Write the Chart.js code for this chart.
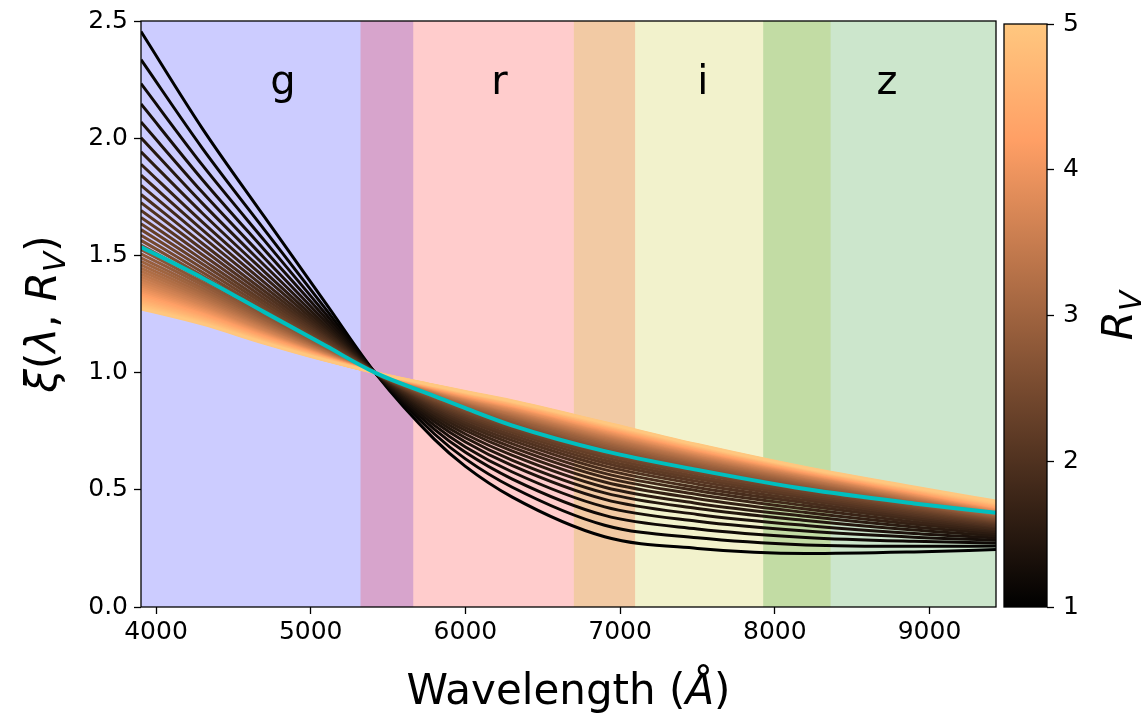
<!DOCTYPE html>
<html>
<head>
<meta charset="utf-8">
<script src="https://cdn.jsdelivr.net/npm/chart.js@4.4.1/dist/chart.umd.min.js"></script>
<style>
  html, body { margin: 0; padding: 0; background: #fff; }
  #wrap { position: relative; width: 1144px; height: 717px; overflow: hidden; }
  #main { position: absolute; left: 0; top: 0; }
  #cbar { position: absolute; left: 996px; top: 0; }
</style>
</head>
<body>
<div id="wrap">
  <canvas id="main" width="1144" height="717"></canvas>
  <canvas id="cbar" width="148" height="717"></canvas>
</div>
<script>
// wavelength grid (Angstrom) shared by every curve
const WAVELENGTHS = [3903, 4300, 4700, 5100, 5415, 5800, 6000, 6300, 6900, 7500, 8200, 8900, 9430];

// R_V of each curve, 1 -> 5
const RV_VALUES = [1.000, 1.091, 1.182, 1.273, 1.364, 1.455, 1.545, 1.636, 1.727, 1.818,
                   1.909, 2.000, 2.091, 2.182, 2.273, 2.364, 2.455, 2.545, 2.636, 2.727,
                   2.818, 2.909, 3.000, 3.091, 3.182, 3.273, 3.364, 3.455, 3.545, 3.636,
                   3.727, 3.818, 3.909, 4.000, 4.091, 4.182, 4.273, 4.364, 4.455, 4.545,
                   4.636, 4.727, 4.818, 4.909, 5.000];

// xi(lambda, R_V), one row per R_V, one column per wavelength
const XI_CURVES = [
  [2.455, 2.041, 1.665, 1.293, 1, 0.715, 0.600, 0.470, 0.300, 0.250, 0.228, 0.235, 0.245],
  [2.335, 1.957, 1.610, 1.269, 1, 0.738, 0.632, 0.512, 0.349, 0.295, 0.265, 0.259, 0.260],
  [2.233, 1.885, 1.564, 1.248, 1, 0.758, 0.660, 0.547, 0.391, 0.333, 0.297, 0.280, 0.273],
  [2.146, 1.823, 1.524, 1.230, 1, 0.775, 0.683, 0.577, 0.427, 0.366, 0.324, 0.298, 0.285],
  [2.069, 1.769, 1.489, 1.214, 1, 0.790, 0.704, 0.604, 0.459, 0.395, 0.348, 0.314, 0.295],
  [2.002, 1.722, 1.458, 1.200, 1, 0.803, 0.722, 0.627, 0.487, 0.420, 0.369, 0.328, 0.304],
  [1.942, 1.680, 1.431, 1.188, 1, 0.815, 0.738, 0.648, 0.511, 0.442, 0.387, 0.341, 0.313],
  [1.889, 1.642, 1.407, 1.177, 1, 0.825, 0.753, 0.666, 0.533, 0.462, 0.403, 0.353, 0.321],
  [1.842, 1.609, 1.385, 1.168, 1, 0.835, 0.765, 0.682, 0.553, 0.480, 0.418, 0.363, 0.328],
  [1.799, 1.579, 1.366, 1.159, 1, 0.843, 0.777, 0.697, 0.570, 0.496, 0.432, 0.373, 0.334],
  [1.760, 1.551, 1.348, 1.151, 1, 0.851, 0.787, 0.711, 0.586, 0.510, 0.444, 0.382, 0.341],
  [1.725, 1.526, 1.332, 1.144, 1, 0.858, 0.797, 0.723, 0.601, 0.524, 0.455, 0.390, 0.346],
  [1.692, 1.503, 1.317, 1.137, 1, 0.864, 0.806, 0.734, 0.614, 0.536, 0.465, 0.397, 0.352],
  [1.662, 1.482, 1.303, 1.131, 1, 0.870, 0.814, 0.745, 0.626, 0.547, 0.474, 0.404, 0.357],
  [1.635, 1.463, 1.291, 1.125, 1, 0.875, 0.821, 0.754, 0.638, 0.557, 0.482, 0.411, 0.361],
  [1.610, 1.445, 1.279, 1.120, 1, 0.880, 0.828, 0.763, 0.648, 0.567, 0.490, 0.417, 0.366],
  [1.586, 1.428, 1.268, 1.115, 1, 0.885, 0.834, 0.771, 0.658, 0.575, 0.498, 0.422, 0.370],
  [1.564, 1.413, 1.258, 1.111, 1, 0.889, 0.840, 0.779, 0.667, 0.584, 0.504, 0.428, 0.374],
  [1.544, 1.399, 1.249, 1.107, 1, 0.893, 0.846, 0.786, 0.675, 0.591, 0.511, 0.433, 0.378],
  [1.525, 1.385, 1.240, 1.103, 1, 0.897, 0.851, 0.792, 0.683, 0.598, 0.517, 0.437, 0.382],
  [1.507, 1.373, 1.232, 1.099, 1, 0.900, 0.856, 0.799, 0.690, 0.605, 0.522, 0.442, 0.385],
  [1.490, 1.361, 1.225, 1.096, 1, 0.903, 0.860, 0.804, 0.697, 0.611, 0.527, 0.446, 0.389],
  [1.475, 1.350, 1.217, 1.092, 1, 0.906, 0.864, 0.810, 0.704, 0.617, 0.532, 0.450, 0.392],
  [1.460, 1.339, 1.211, 1.089, 1, 0.909, 0.868, 0.815, 0.710, 0.623, 0.537, 0.454, 0.395],
  [1.446, 1.329, 1.204, 1.087, 1, 0.912, 0.872, 0.820, 0.716, 0.628, 0.541, 0.458, 0.398],
  [1.433, 1.320, 1.198, 1.084, 1, 0.915, 0.876, 0.824, 0.721, 0.633, 0.545, 0.461, 0.401],
  [1.420, 1.311, 1.193, 1.081, 1, 0.917, 0.879, 0.829, 0.726, 0.638, 0.549, 0.465, 0.404],
  [1.408, 1.303, 1.187, 1.079, 1, 0.919, 0.882, 0.833, 0.731, 0.642, 0.553, 0.468, 0.406],
  [1.397, 1.295, 1.182, 1.077, 1, 0.922, 0.885, 0.837, 0.736, 0.646, 0.556, 0.471, 0.409],
  [1.386, 1.288, 1.177, 1.074, 1, 0.924, 0.888, 0.840, 0.740, 0.650, 0.560, 0.474, 0.412],
  [1.376, 1.280, 1.172, 1.072, 1, 0.926, 0.891, 0.844, 0.744, 0.654, 0.563, 0.477, 0.414],
  [1.366, 1.274, 1.168, 1.070, 1, 0.928, 0.894, 0.847, 0.748, 0.658, 0.566, 0.480, 0.417],
  [1.357, 1.267, 1.164, 1.068, 1, 0.929, 0.896, 0.851, 0.752, 0.661, 0.569, 0.482, 0.419],
  [1.348, 1.261, 1.160, 1.067, 1, 0.931, 0.898, 0.854, 0.756, 0.665, 0.571, 0.485, 0.422],
  [1.340, 1.255, 1.156, 1.065, 1, 0.933, 0.901, 0.857, 0.759, 0.668, 0.574, 0.488, 0.424],
  [1.332, 1.249, 1.152, 1.063, 1, 0.934, 0.903, 0.859, 0.763, 0.671, 0.577, 0.490, 0.426],
  [1.324, 1.244, 1.149, 1.062, 1, 0.936, 0.905, 0.862, 0.766, 0.674, 0.579, 0.493, 0.429],
  [1.317, 1.238, 1.145, 1.060, 1, 0.937, 0.907, 0.865, 0.769, 0.676, 0.581, 0.495, 0.431],
  [1.309, 1.233, 1.142, 1.059, 1, 0.939, 0.909, 0.867, 0.772, 0.679, 0.583, 0.497, 0.434],
  [1.303, 1.229, 1.139, 1.057, 1, 0.940, 0.911, 0.869, 0.774, 0.682, 0.586, 0.500, 0.436],
  [1.296, 1.224, 1.136, 1.056, 1, 0.941, 0.913, 0.872, 0.777, 0.684, 0.588, 0.502, 0.439],
  [1.290, 1.219, 1.133, 1.055, 1, 0.943, 0.914, 0.874, 0.780, 0.686, 0.590, 0.504, 0.441],
  [1.284, 1.215, 1.130, 1.053, 1, 0.944, 0.916, 0.876, 0.782, 0.689, 0.591, 0.507, 0.444],
  [1.278, 1.211, 1.128, 1.052, 1, 0.945, 0.917, 0.878, 0.785, 0.691, 0.593, 0.509, 0.447],
  [1.272, 1.207, 1.125, 1.051, 1, 0.946, 0.919, 0.880, 0.787, 0.693, 0.595, 0.512, 0.452]
];

// reference curve drawn in cyan on top of the family
const XI_CYAN = [1.536, 1.404, 1.258, 1.113, 1, 0.900, 0.848, 0.775, 0.665, 0.585, 0.503, 0.442, 0.402];

// photometric bands (Angstrom)
const BAND_NAMES = ['g', 'r', 'i', 'z'];
const BAND_START = [3903, 5322, 6701, 7925];
const BAND_END = [5663, 7097, 8361, 9430];
const BAND_LABEL_X = [4820, 6220, 7535, 8725];
const BAND_LABEL_Y = 2.19;

const X_MIN = 3903, X_MAX = 9430;
const X_TICKS = [4000, 5000, 6000, 7000, 8000, 9000];
const Y_TICKS = [0, 0.5, 1.0, 1.5, 2.0, 2.5];
const RV_TICKS = [1, 2, 3, 4, 5];

const BAND_COLORS = ['rgba(0,0,255,0.2)', 'rgba(255,0,0,0.2)', 'rgba(191,191,0,0.2)', 'rgba(0,128,0,0.2)'];
const FONT = 'DejaVu Sans';
const TICK_SIZE = 25;
const LABEL_SIZE = 42;

Chart.defaults.font.family = FONT;
Chart.defaults.color = '#000';

// matplotlib "copper" colormap
function copper(t) {
    const r = Math.min(1, 1.25 * t) * 255;
    const g = 0.7812 * t * 255;
    const b = 0.4975 * t * 255;
    return `rgb(${r.toFixed(0)}, ${g.toFixed(0)}, ${b.toFixed(0)})`;
}

function rvColour(rv) {
    return copper((rv - RV_TICKS[0]) / (RV_TICKS[RV_TICKS.length - 1] - RV_TICKS[0]));
}

// text with italic / subscript pieces, centred on (cx, baseline cy)
function drawRich(ctx, parts, cx, cy, size, angle) {
    ctx.save();
    ctx.translate(cx, cy);
    ctx.rotate(angle);
    const fontOf = p => `${p.it ? 'italic ' : ''}${p.sub ? size * 0.7 : size}px "${FONT}"`;
    let total = 0;
    const widths = parts.map(p => {
        ctx.font = fontOf(p);
        const w = ctx.measureText(p.t).width;
        total += w;
        return w;
    });
    let x = -total / 2;
    ctx.fillStyle = '#000';
    ctx.textAlign = 'left';
    ctx.textBaseline = 'alphabetic';
    parts.forEach((p, i) => {
        ctx.font = fontOf(p);
        ctx.fillText(p.t, x, p.sub ? size * 0.22 : 0);
        x += widths[i];
    });
    ctx.restore();
}

const decorPlugin = {
    id: 'decor',
    beforeDatasetsDraw(chart) {
        const { ctx, chartArea: a, scales: { x } } = chart;
        ctx.save();
        ctx.beginPath();
        ctx.rect(a.left, a.top, a.width, a.height);
        ctx.clip();
        for (let i = 0; i < BAND_NAMES.length; i++) {
            const x0 = x.getPixelForValue(BAND_START[i]);
            const x1 = x.getPixelForValue(BAND_END[i]);
            ctx.fillStyle = BAND_COLORS[i];
            ctx.fillRect(x0, a.top, x1 - x0, a.height);
        }
        ctx.restore();
    },
    afterDatasetsDraw(chart) {
        const { ctx, scales: { x, y } } = chart;
        ctx.save();
        ctx.font = `40px "${FONT}"`;
        ctx.fillStyle = '#000';
        ctx.textAlign = 'center';
        ctx.textBaseline = 'alphabetic';
        BAND_NAMES.forEach((name, i) => {
            ctx.fillText(name, x.getPixelForValue(BAND_LABEL_X[i]), y.getPixelForValue(BAND_LABEL_Y));
        });
        ctx.restore();
    },
    afterDraw(chart) {
        const { ctx, chartArea: a } = chart;
        // frame
        ctx.save();
        ctx.strokeStyle = '#000';
        ctx.lineWidth = 1.3;
        ctx.strokeRect(a.left, a.top, a.width, a.height);
        ctx.restore();

        drawRich(ctx, [{ t: 'Wavelength (' }, { t: 'Å', it: true }, { t: ')' }],
            (a.left + a.right) / 2, 704, LABEL_SIZE, 0);
        drawRich(ctx, [{ t: 'ξ', it: true }, { t: '(' }, { t: 'λ', it: true }, { t: ', ' },
            { t: 'R', it: true }, { t: 'V', it: true, sub: true }, { t: ')' }],
            56, (a.top + a.bottom) / 2, LABEL_SIZE, -Math.PI / 2);
    }
};

let datasets = [];

datasets.push({
    label: 'cyan',
    data: WAVELENGTHS.map((w, i) => ({ x: w, y: XI_CYAN[i] })),
    borderColor: 'rgb(0, 191, 191)',
    borderWidth: 4,
    order: 0,
});

for (let k = 0; k < RV_VALUES.length; k++) {
    datasets.push({
        label: 'R_V = ' + RV_VALUES[k],
        data: WAVELENGTHS.map((w, i) => ({ x: w, y: XI_CURVES[k][i] })),
        borderColor: rvColour(RV_VALUES[k]),
        borderWidth: 3,
        // low R_V drawn first, high R_V ends up on top
        order: RV_VALUES.length - k,
    });
}

new Chart(document.getElementById('main'), {
    type: 'line',
    data: { datasets: datasets },
    options: {
        responsive: false,
        animation: false,
        layout: { padding: { left: 0, right: 148, top: 18, bottom: 0 } },
        elements: {
            point: { radius: 0 },
            line: { cubicInterpolationMode: 'monotone', fill: false, borderCapStyle: 'butt' },
        },
        plugins: { legend: { display: false }, tooltip: { enabled: false } },
        scales: {
            x: {
                type: 'linear',
                min: X_MIN,
                max: X_MAX,
                afterBuildTicks: s => { s.ticks = X_TICKS.map(v => ({ value: v })); },
                afterFit: s => { s.height = 110; },
                ticks: { font: { size: TICK_SIZE }, color: '#000', padding: 3, maxRotation: 0, callback: v => String(v) },
                grid: { drawOnChartArea: false, drawTicks: true, tickLength: 7, tickWidth: 1.3, tickColor: '#000' },
                border: { display: false },
            },
            y: {
                type: 'linear',
                min: 0,
                max: 2.5,
                afterBuildTicks: s => { s.ticks = Y_TICKS.map(v => ({ value: v })); },
                afterFit: s => { s.width = 141; },
                ticks: { font: { size: TICK_SIZE }, color: '#000', padding: 6, callback: v => v.toFixed(1) },
                grid: { drawOnChartArea: false, drawTicks: true, tickLength: 7, tickWidth: 1.3, tickColor: '#000' },
                border: { display: false },
            },
        },
    },
    plugins: [decorPlugin],
});

// colour bar
const cbarPlugin = {
    id: 'cbarFrame',
    afterDraw(chart) {
        const { ctx, chartArea: a } = chart;
        ctx.save();
        ctx.strokeStyle = '#000';
        ctx.lineWidth = 1.3;
        ctx.strokeRect(a.left, a.top, a.width, a.height);
        ctx.restore();
        drawRich(ctx, [{ t: 'R', it: true }, { t: 'V', it: true, sub: true }],
            136, (a.top + a.bottom) / 2, LABEL_SIZE, -Math.PI / 2);
    }
};

new Chart(document.getElementById('cbar'), {
    type: 'bar',
    data: {
        labels: [''],
        datasets: [{
            data: [[RV_TICKS[0], RV_TICKS[RV_TICKS.length - 1]]],
            backgroundColor: (c) => {
                const area = c.chart.chartArea;
                if (!area) return null;
                const g = c.chart.ctx.createLinearGradient(0, area.bottom, 0, area.top);
                [0, 0.8, 1].forEach(t => g.addColorStop(t, copper(t)));
                return g;
            },
            borderWidth: 0,
            barPercentage: 1,
            categoryPercentage: 1,
        }],
    },
    options: {
        responsive: false,
        animation: false,
        layout: { padding: { left: 8, right: 0, top: 18, bottom: 110 } },
        plugins: { legend: { display: false }, tooltip: { enabled: false } },
        scales: {
            x: { display: false },
            y: {
                position: 'right',
                min: RV_TICKS[0],
                max: RV_TICKS[RV_TICKS.length - 1],
                afterBuildTicks: s => { s.ticks = RV_TICKS.map(v => ({ value: v })); },
                afterFit: s => { s.width = 97; },
                ticks: { font: { size: TICK_SIZE }, color: '#000', padding: 9 },
                grid: { drawOnChartArea: false, drawTicks: true, tickLength: 7, tickWidth: 1.3, tickColor: '#000' },
                border: { display: false },
            },
        },
    },
    plugins: [cbarPlugin],
});
</script>
</body>
</html>
